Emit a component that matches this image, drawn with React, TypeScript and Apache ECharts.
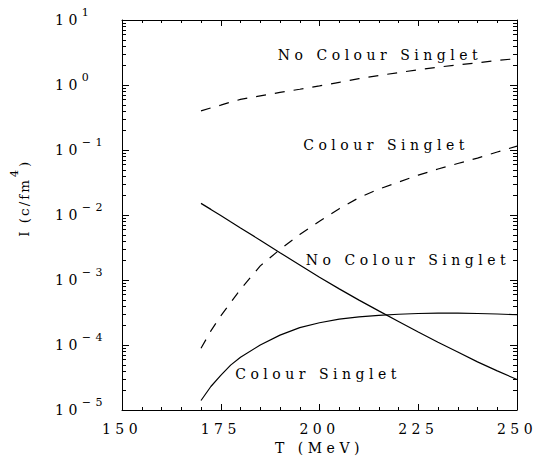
import React, { useEffect, useRef } from "react";
import * as echarts from "echarts";

// Temperature grid (MeV)
const temperatures = [170, 172.5, 175, 177.5, 180, 185, 190, 195, 200, 205, 210, 215, 220, 225, 230, 235, 240, 245, 250];

// No Colour Singlet (dashed, upper)
const noSingletDashed = [0.4, 0.445, 0.49, 0.545, 0.6, 0.68, 0.77, 0.86, 0.97, 1.1, 1.25, 1.4, 1.55, 1.72, 1.88, 2.04, 2.2, 2.38, 2.55];
// Colour Singlet (dashed)
const singletDashed = [8.9e-5, 1.65e-4, 2.8e-4, 4.5e-4, 7.2e-4, 1.65e-3, 2.95e-3, 5.0e-3, 8.0e-3, 0.0125, 0.0185, 0.025, 0.032, 0.041, 0.051, 0.062, 0.075, 0.093, 0.115];
// No Colour Singlet (solid, decreasing)
const noSingletSolid = [0.0151, 0.0122, 9.8e-3, 7.85e-3, 6.3e-3, 4.1e-3, 2.63e-3, 1.7e-3, 1.1e-3, 7.3e-4, 4.9e-4, 3.35e-4, 2.3e-4, 1.58e-4, 1.1e-4, 7.8e-5, 5.5e-5, 4.0e-5, 2.95e-5];
// Colour Singlet (solid, increasing)
const singletSolid = [1.4e-5, 2.3e-5, 3.4e-5, 4.9e-5, 6.5e-5, 1.0e-4, 1.42e-4, 1.85e-4, 2.2e-4, 2.5e-4, 2.7e-4, 2.85e-4, 2.97e-4, 3.05e-4, 3.1e-4, 3.1e-4, 3.05e-4, 3.0e-4, 2.92e-4];

const xMin = 150;
const xMax = 250;
const xInterval = 25;
const yMin = 1e-5;
const yMax = 10;

const labelTexts = ["No Colour Singlet", "Colour Singlet", "No Colour Singlet", "Colour Singlet"];
const yTitleMain = "I (c/fm";
const yTitleSup = "4";
const yTitleEnd = ")";

const decades = [-5, -4, -3, -2, -1, 0];
const minorMultipliers = [2, 3, 4, 5, 6, 7, 8, 9];

const FONT = "DejaVu Serif";

export default function App() {
  const ref = useRef<HTMLDivElement>(null);
  useEffect(() => {
    document.body.style.margin = "0";
    document.body.style.background = "#fff";
    const chart = echarts.init(ref.current!, null, { renderer: "svg" });

    const pairs = (ys: number[]) => temperatures.map((t, i) => [t, ys[i]]);
    const minorVals: number[][] = [];
    decades.forEach((d) => minorMultipliers.forEach((m) => minorVals.push([xMin, m * Math.pow(10, d)])));

    const expText = (v: number) => {
      const e = Math.round(Math.log10(v));
      return e < 0 ? "\u2212" + -e : String(e);
    };

    const lineBase = { type: "line", showSymbol: false, symbol: "none", xAxisIndex: 0, yAxisIndex: 0, silent: true };

    const annotationPos = [
      [380, 55],
      [386, 145],
      [408, 260],
      [318, 374],
    ];

    const tickStyle = { color: "#000", width: 1 };
    const txt = (text: string, size: number, x: number, y: number, align: string) => ({
      type: "text",
      x,
      y,
      silent: true,
      style: { text, fontSize: size, fontFamily: FONT, fill: "#000", align, verticalAlign: "middle" },
    });

    chart.setOption({
      animation: false,
      backgroundColor: "#fff",
      textStyle: { fontFamily: FONT, color: "#000" },
      grid: { left: 122, right: 23, top: 20, bottom: 50, containLabel: false, outerBoundsMode: "none" },
      xAxis: [
        {
          type: "value",
          min: xMin,
          max: xMax,
          interval: xInterval,
          position: "bottom",
          axisLine: { show: true, lineStyle: { color: "#000", width: 1 } },
          axisTick: { show: true, inside: true, length: 6, lineStyle: tickStyle },
          minorTick: { show: true, splitNumber: 5, length: 3, lineStyle: tickStyle },
          splitLine: { show: false },
          axisLabel: { margin: 12, fontSize: 14, fontFamily: FONT, color: "#000" },
          name: "T (MeV)",
          nameLocation: "middle",
          nameGap: 30,
          nameTextStyle: { fontSize: 14, fontFamily: FONT, color: "#000" },
        },
        {
          type: "value",
          min: xMin,
          max: xMax,
          interval: xInterval,
          position: "top",
          axisLine: { show: true, lineStyle: { color: "#000", width: 1 } },
          axisTick: { show: true, inside: true, length: 6, lineStyle: tickStyle },
          minorTick: { show: true, splitNumber: 5, length: 3, lineStyle: tickStyle },
          splitLine: { show: false },
          axisLabel: { show: false },
        },
      ],
      yAxis: [
        {
          type: "log",
          logBase: 10,
          min: yMin,
          max: yMax,
          position: "left",
          axisLine: { show: true, lineStyle: { color: "#000", width: 1 } },
          axisTick: { show: true, inside: true, length: 7, lineStyle: tickStyle },
          splitLine: { show: false },
          axisLabel: {
            margin: 67,
            align: "left",
            formatter: (v: number) => `{b|10}{s|${expText(v)}}`,
            rich: {
              b: { fontSize: 14, fontFamily: FONT, color: "#000", padding: [6, 9, 6, 0] },
              s: { fontSize: 11, fontFamily: FONT, color: "#000", verticalAlign: "top" },
            },
          },
        },
        {
          type: "log",
          logBase: 10,
          min: yMin,
          max: yMax,
          position: "right",
          axisLine: { show: true, lineStyle: { color: "#000", width: 1 } },
          axisTick: { show: true, inside: true, length: 7, lineStyle: tickStyle },
          splitLine: { show: false },
          axisLabel: { show: false },
        },
      ],
      series: [
        { ...lineBase, name: "No Colour Singlet (dashed)", data: pairs(noSingletDashed), lineStyle: { color: "#000", width: 1.2, type: [10, 9] } },
        { ...lineBase, name: "Colour Singlet (dashed)", data: pairs(singletDashed), lineStyle: { color: "#000", width: 1.2, type: [10, 9] } },
        { ...lineBase, name: "No Colour Singlet", data: pairs(noSingletSolid), lineStyle: { color: "#000", width: 1.2, type: "solid" } },
        { ...lineBase, name: "Colour Singlet", data: pairs(singletSolid), lineStyle: { color: "#000", width: 1.2, type: "solid" } },
        {
          type: "custom",
          xAxisIndex: 0,
          yAxisIndex: 0,
          silent: true,
          clip: false,
          data: minorVals,
          renderItem: (params: any, api: any) => {
            const cs = params.coordSys;
            const p = api.coord([api.value(0), api.value(1)]);
            const y = Math.round(p[1]) + 0.5;
            const len = 4;
            return {
              type: "group",
              children: [
                { type: "line", shape: { x1: cs.x, y1: y, x2: cs.x + len, y2: y }, style: { stroke: "#000", lineWidth: 1 } },
                { type: "line", shape: { x1: cs.x + cs.width - len, y1: y, x2: cs.x + cs.width, y2: y }, style: { stroke: "#000", lineWidth: 1 } },
              ],
            };
          },
        },
      ],
      graphic: [
        ...labelTexts.map((t, i) => txt(t, 14, annotationPos[i][0], annotationPos[i][1], "center")),
        {
          type: "group",
          x: 24,
          y: 215,
          rotation: Math.PI / 2,
          children: [
            txt(yTitleMain, 13.5, 37, 0, "right"),
            txt(yTitleSup, 11, 38, -10, "left"),
            txt(yTitleEnd, 13.5, 48, 0, "left"),
          ],
        },
      ],
    });
    return () => chart.dispose();
  }, []);
  return (
    <>
      <style>{`#chart text[style*="13.5px"] { letter-spacing: 2px; }`}</style>
      <div id="chart" ref={ref} style={{ width: 540, height: 460, letterSpacing: "4.5px", background: "#fff" }} />
    </>
  );
}
